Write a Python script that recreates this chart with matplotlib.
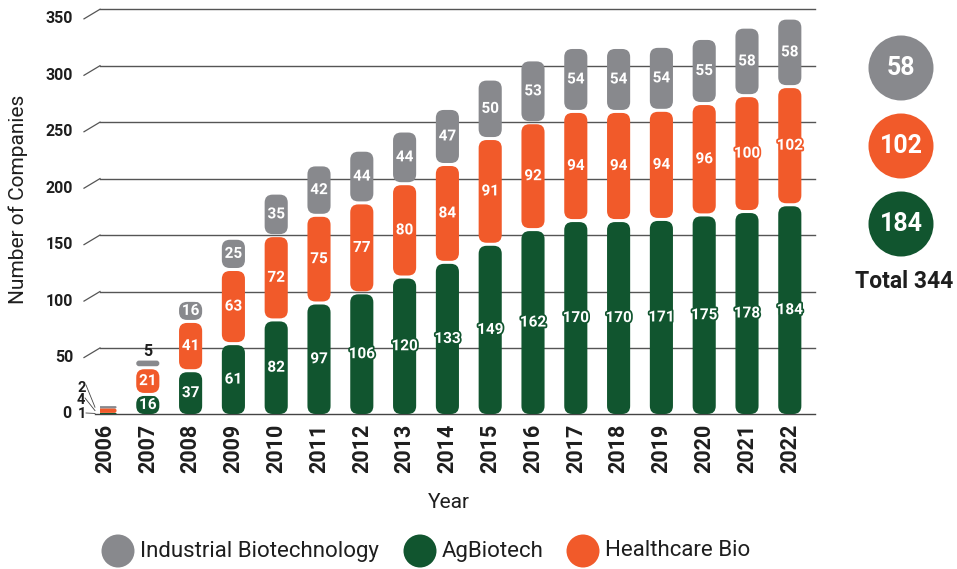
import matplotlib
matplotlib.use("Agg")
import matplotlib.pyplot as plt
from matplotlib.patches import FancyBboxPatch, Ellipse
import matplotlib.patheffects as pe

# ---------------- data ----------------
years = [str(y) for y in range(2006, 2023)]
agbiotech = [1, 16, 37, 61, 82, 97, 106, 120, 133, 149, 162, 170, 170, 171, 175, 178, 184]
healthcare = [4, 21, 41, 63, 72, 75, 77, 80, 84, 91, 92, 94, 94, 94, 96, 100, 102]
industrial = [2, 5, 16, 25, 35, 42, 44, 44, 47, 50, 53, 54, 54, 54, 55, 58, 58]
y_ticks = [0, 50, 100, 150, 200, 250, 300, 350]
legend_labels = ["Industrial Biotechnology", "AgBiotech", "Healthcare Bio"]
summary_values = [58, 102, 184]
summary_total = "Total 344"

GREEN = "#11552F"
ORANGE = "#F15A2A"
GRAY = "#88898D"
DARK = "#1E1E1E"

plt.rcParams['font.family'] = ['Roboto', 'DejaVu Sans']

W, H = 957, 569
fig = plt.figure(figsize=(W / 100, H / 100), dpi=100)

X0, DX = 105.0, 42.8      # pixel of first bar centre, pixels per category
Y0, DY = 414.0, 1.129     # pixel of zero, pixels per unit
AX_L, AX_R = 100, 815
YMAX = 364
ax = fig.add_axes([AX_L / W, (H - Y0) / H, (AX_R - AX_L) / W, YMAX * DY / H])
ax.set_xlim((AX_L - X0) / DX, (AX_R - X0) / DX)
ax.set_ylim(0, YMAX)
ax.axis('off')


def px2x(px):
    return (px - X0) / DX


def py2y(py):
    return (Y0 - py) / DY


def fx(px):
    return px / W


def fy(py):
    return 1 - py / H


# ---------------- grid / y ticks ----------------
GOFF = 8.5
for v in y_ticks:
    if v == 0:
        ax.plot([px2x(95), px2x(AX_R)], [0, 0], color="#444444", lw=1.0,
                zorder=1, clip_on=False)
        ax.text(px2x(71), 0, "0", ha='right', va='center', fontsize=11.5,
                fontweight='bold', color=DARK, clip_on=False)
        continue
    ax.plot([px2x(AX_L), px2x(AX_R)], [v + GOFF, v + GOFF], color="#555555",
            lw=1.0, zorder=1, clip_on=False)
    ax.plot([px2x(84), px2x(AX_L)], [v, v + GOFF], color="#555555", lw=0.9,
            zorder=1, clip_on=False)
    ax.text(px2x(73), v, str(v), ha='right', va='center', fontsize=11.5,
            fontweight='bold', color=DARK, clip_on=False)

# ---------------- bars ----------------
BW = 0.54
RAD = 8.0 / DX
ASP = DX / DY


def seg(i, y0, h, color):
    r = min(RAD, BW / 2, h / ASP / 2)
    p = FancyBboxPatch((i - BW / 2, y0), BW, h,
                       boxstyle=f"round,pad=0,rounding_size={r}",
                       mutation_aspect=ASP, fc=color, ec='none', zorder=3)
    ax.add_patch(p)


def inlabel(i, y, val, color):
    ax.text(i, y, str(val), ha='center', va='center', fontsize=11,
            fontweight='bold', color='white', zorder=5,
            path_effects=[pe.withStroke(linewidth=2.5, foreground=color)])


for i in range(len(years)):
    g, o, s = agbiotech[i], healthcare[i], industrial[i]
    gap = 3.0 / DY if i > 0 else 0.0
    b1 = g + gap
    b2 = b1 + o + gap
    seg(i, 0, g, GREEN)
    seg(i, b1, o, ORANGE)
    seg(i, b2, s, GRAY)
    if i == 0:
        continue
    inlabel(i, g / 2, g, GREEN)
    inlabel(i, b1 + o / 2, o, ORANGE)
    if s * DY < 12:
        ax.text(i, b2 + s + 8, str(s), ha='center', va='center', fontsize=11.5,
                fontweight='bold', color=DARK, zorder=5)
    else:
        inlabel(i, b2 + s / 2, s, GRAY)

# 2006 external labels with leader lines
g0, o0, s0 = agbiotech[0], healthcare[0], industrial[0]
ext = [(str(g0), 82, 413.5, g0 / 2, 413),
       (str(o0), 81, 400.5, g0 + o0 / 2, 398),
       (str(s0), 82, 387.5, g0 + o0 + s0 / 2, 385)]
for txt, px, py, ytarget, ly in ext:
    ax.text(px2x(px), py2y(py), txt, ha='center', va='center', fontsize=10.5,
            fontweight='bold', color=DARK, clip_on=False, zorder=5)
    ax.plot([px2x(px + 4), px2x(95)], [py2y(ly), ytarget],
            color="#444444", lw=0.6, clip_on=False, zorder=4)

# x tick labels
for i, yr in enumerate(years):
    ax.text(i, py2y(424), yr, rotation=90, ha='center', va='top',
            fontsize=15.5, fontweight='bold', color=DARK, clip_on=False)

# axis titles
fig.text(fx(449), fy(502), "Year", ha='center', va='center', fontsize=15,
         color=DARK)
fig.text(fx(18), fy(199), "Number of Companies", ha='center', va='center',
         rotation=90, fontsize=15, color=DARK)

# ---------------- summary circles ----------------
sum_colors = [GRAY, ORANGE, GREEN]
sum_y = [68, 146, 224]
for v, c, cy in zip(summary_values, sum_colors, sum_y):
    fig.add_artist(Ellipse((fx(901), fy(cy)), 65 / W, 65 / H, fc=c, ec='none',
                           transform=fig.transFigure))
    fig.text(fx(901), fy(cy), str(v), ha='center', va='center', fontsize=18,
             fontweight='bold', color='white')
fig.text(fx(904), fy(281), summary_total, ha='center', va='center',
         fontsize=16.5, fontweight='bold', color=DARK)

# ---------------- legend ----------------
leg_colors = [GRAY, GREEN, ORANGE]
leg_cx = [118, 420, 583]
leg_tx = [140, 442, 605]
for lab, c, cx, tx in zip(legend_labels, leg_colors, leg_cx, leg_tx):
    fig.add_artist(Ellipse((fx(cx), fy(551)), 33 / W, 33 / H, fc=c, ec='none',
                           transform=fig.transFigure))
    fig.text(fx(tx), fy(551), lab, ha='left', va='center', fontsize=16,
             color=DARK)

fig.savefig("out.png", dpi=100)
